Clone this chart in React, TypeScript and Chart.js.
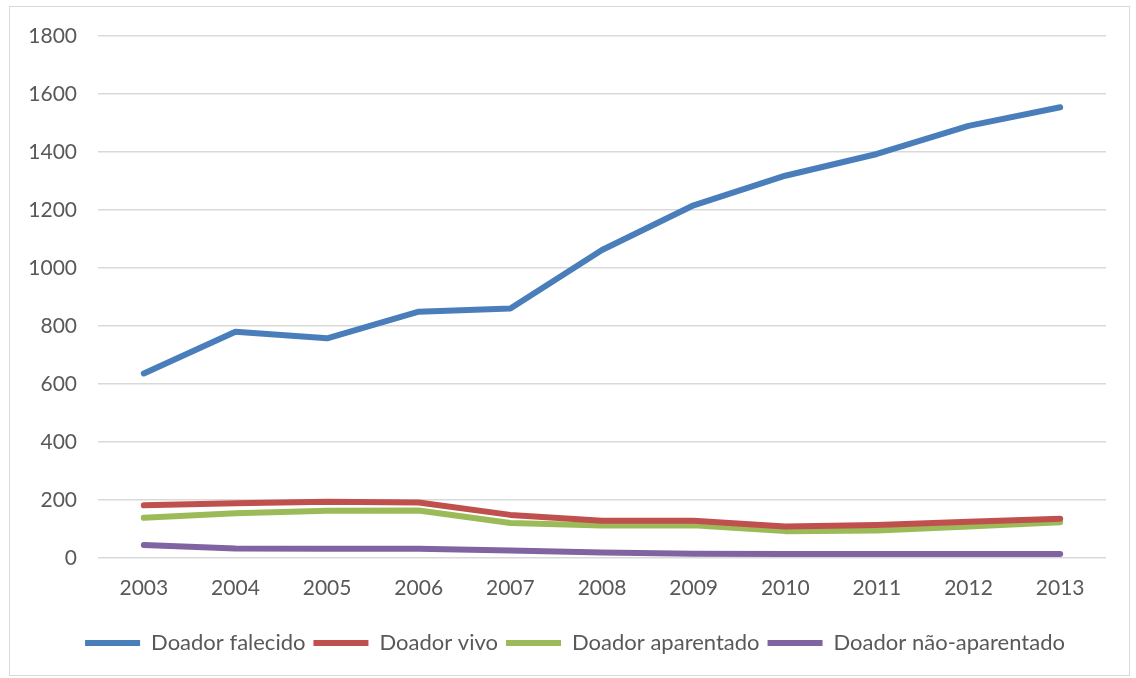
import React, { useEffect, useRef } from "react";
import { Chart, registerables } from "chart.js";

Chart.register(...registerables);

const years = ["2003", "2004", "2005", "2006", "2007", "2008", "2009", "2010", "2011", "2012", "2013"];
const falecido = [636, 780, 757, 849, 860, 1062, 1216, 1318, 1393, 1490, 1554];
const vivo = [181, 188, 193, 191, 148, 128, 128, 108, 113, 124, 135];
const aparentado = [138, 154, 162, 163, 120, 111, 112, 92, 94, 108, 123];
const naoAparentado = [44, 32, 31, 31, 25, 18, 14, 13, 13, 13, 13];
const seriesNames = ["Doador falecido", "Doador vivo", "Doador aparentado", "Doador não-aparentado"];
const seriesColors = ["#4A7EBB", "#C0504D", "#9BBB59", "#8064A2"];

const legendShift = {
  id: "legendShift",
  afterLayout(chart: any) {
    const l = chart.legend;
    if (l) {
      l.left += 22;
      l.right += 22;
    }
  },
};

export default function App() {
  const ref = useRef<HTMLCanvasElement | null>(null);
  useEffect(() => {
    document.body.style.margin = "0";
    const values = [falecido, vivo, aparentado, naoAparentado];
    const chart = new Chart(ref.current!, {
      type: "line",
      data: {
        labels: years,
        datasets: values.map((v, i) => ({
          label: seriesNames[i],
          data: v,
          borderColor: seriesColors[i],
          backgroundColor: seriesColors[i],
          borderWidth: 6,
          borderCapStyle: "round" as const,
          borderJoinStyle: "round" as const,
          pointRadius: 0,
          pointHoverRadius: 0,
          tension: 0,
          fill: false,
        })),
      },
      plugins: [legendShift],
      options: {
        animation: false,
        responsive: false,
        layout: { padding: { left: 0, right: 30, top: 36, bottom: 14 } },
        plugins: {
          tooltip: { enabled: false },
          legend: {
            position: "bottom",
            labels: {
              usePointStyle: true,
              pointStyle: "line",
              pointStyleWidth: 55,
              padding: 8,
              color: "#595959",
              font: { family: "Lato", size: 22 },
            },
          },
        },
        scales: {
          x: {
            offset: true,
            grid: { display: false },
            border: { display: false },
            afterFit: (scale: any) => { scale.height += 13; },
            ticks: { color: "#595959", font: { family: "Lato", size: 21 }, padding: 10, maxRotation: 0 },
          },
          y: {
            min: 0,
            max: 1800,
            afterFit: (scale: any) => { scale.width = 98; },
            grid: { color: "#D9D9D9", lineWidth: 1.5, drawTicks: false },
            border: { display: false },
            ticks: {
              stepSize: 200,
              color: "#595959",
              font: { family: "Lato", size: 21 },
              padding: 21,
              callback: (v: any) => String(v),
            },
          },
        },
      },
    });
    return () => chart.destroy();
  }, []);
  return (
    <div style={{ position: "absolute", left: 0, top: 0, width: 1136, height: 678, background: "#fff" }}>
      <canvas ref={ref} width={1136} height={678} style={{ position: "absolute", left: 0, top: 0 }} />
      <div style={{ position: "absolute", left: 9, top: 6, width: 1119, height: 668, border: "1.5px solid #D9D9D9", pointerEvents: "none" }} />
    </div>
  );
}
